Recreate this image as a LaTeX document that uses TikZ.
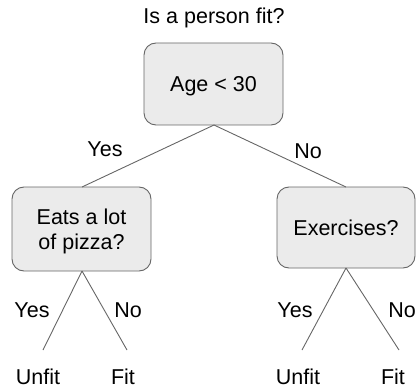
\documentclass[tikz,border=0pt]{standalone}
\usepackage{fontspec}
\setmainfont{Liberation Sans}
\begin{document}
\begin{tikzpicture}[x=1pt,y=-1pt,
  every node/.style={font=\fontsize{21.5}{25}\selectfont, inner sep=0pt},
  box/.style={draw=black!60, fill=black!8, rounded corners=12pt, line width=0.9pt},
  lbl/.style={anchor=base},
  conn/.style={draw=black!60, line width=0.9pt}]
\useasboundingbox (0,0) rectangle (417,390);
% title
\node[lbl] (title) at (214,24) {Is a person fit?};
% boxes
\draw[box] (144,43) rectangle (283,125);
\node[lbl] (root) at (213.5,92) {Age < 30};
\coordinate (rootb) at (214,125);
\draw[box] (12,187) rectangle (151,271);
\node[lbl] (l1) at (81.5,224) {Eats a lot};
\node[lbl] (l2) at (81.5,249) {of pizza?};
\coordinate (lt) at (82,187);
\coordinate (lb) at (82,271);
\draw[box] (277,187) rectangle (415,268);
\node[lbl] (r1) at (346,235) {Exercises?};
\coordinate (rt) at (346,187);
\coordinate (rb) at (346,268);
% leaf ends
\coordinate (lle) at (43,350);
\coordinate (lre) at (127,350);
\coordinate (rle) at (302,350);
\coordinate (rre) at (399,350);
% connectors
\draw[conn] (rootb) -- (lt);
\draw[conn] (rootb) -- (rt);
\draw[conn] (lb) -- (lle);
\draw[conn] (lb) -- (lre);
\draw[conn] (rb) -- (rle);
\draw[conn] (rb) -- (rre);
% edge labels
\node[lbl] (y1) at (105,157) {Yes};
\node[lbl] (n1) at (308,158) {No};
\node[lbl] (y2) at (32,317) {Yes};
\node[lbl] (n2) at (128,317) {No};
\node[lbl] (y3) at (295,317) {Yes};
\node[lbl] (n3) at (402,317) {No};
% leaves
\node[lbl] (u1) at (38,384) {Unfit};
\node[lbl] (f1) at (123,384) {Fit};
\node[lbl] (u2) at (298,384) {Unfit};
\node[lbl] (f2) at (393,384) {Fit};
\end{tikzpicture}
\end{document}
